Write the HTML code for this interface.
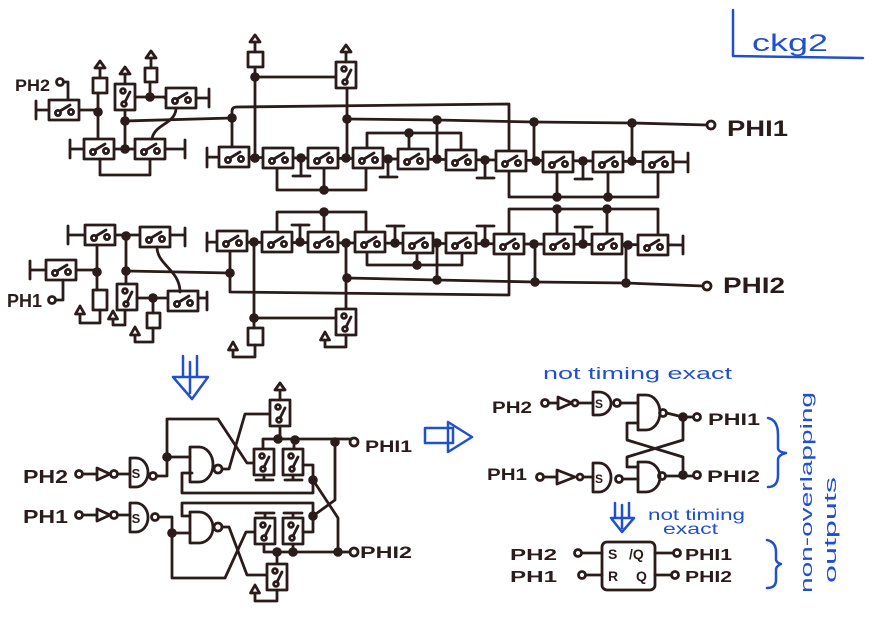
<!DOCTYPE html>
<html><head><meta charset="utf-8"><style>
html,body{margin:0;padding:0;background:#fff;}
svg{display:block;}
.t{font-family:"Liberation Sans",sans-serif;font-weight:bold;fill:#2a1c1a;}
.b{font-family:"Liberation Sans",sans-serif;fill:#2050d0;}
</style></head><body>
<svg width="877" height="620" viewBox="0 0 877 620" xmlns="http://www.w3.org/2000/svg">
<defs>
<g id="sh"><rect x="-15" y="-10" width="30" height="20" fill="#fff"/><circle cx="-6" cy="3" r="2.6" fill="#fff"/><circle cx="7" cy="2" r="2.6" fill="#fff"/><line x1="-4" y1="1" x2="6" y2="-5"/></g>
<g id="sv"><rect x="-10" y="-13" width="20" height="26" fill="#fff"/><circle cx="-2" cy="-6" r="2.4" fill="#fff"/><circle cx="-1" cy="7" r="2.4" fill="#fff"/><line x1="0" y1="5" x2="5" y2="-5"/></g>
<circle id="n" r="4.8" fill="#2a1c1a" stroke="none"/>
<g id="au"><line x1="0" y1="0" x2="0" y2="-16"/><path d="M-5,-10 L0,-17 L5,-10 Z" fill="#fff"/></g>
<path id="ah" d="M-4.5,3 L0,-5 L4.5,3 Z" fill="#fff"/>
<g id="gd"><line x1="0" y1="0" x2="0" y2="18"/><line x1="-8" y1="18" x2="9" y2="18"/></g>
<g id="pw"><line x1="0" y1="0" x2="0" y2="-17"/><line x1="-8" y1="-17" x2="9" y2="-17"/></g>
</defs>

<g fill="none" stroke="#2a1c1a" stroke-width="2.8" stroke-linecap="round" stroke-linejoin="round">
<!-- ===== top-left cluster ===== -->
<circle cx="60" cy="82" r="3.5"/>
<path d="M63.5,82 H68 V100"/>
<path d="M36,110 H98 M36,101 V119"/>
<use href="#sh" x="64" y="110"/>
<path d="M98,112 V93"/><rect x="93" y="78" width="14" height="15"/><use href="#au" x="100" y="78"/>
<path d="M98,112 V139"/>
<use href="#sv" x="125" y="97"/><use href="#au" x="125" y="84"/>
<path d="M135,97 H165"/>
<path d="M150,97 V82"/><rect x="145" y="68" width="12" height="14"/><use href="#au" x="151" y="68"/>
<path d="M165,98 H209 M209,89 V107"/>
<use href="#sh" x="181" y="98"/>
<path d="M125,110 V149"/>
<path d="M125,121 L232,118"/>
<path d="M70,149 H185 M70,140 V158 M185,140 V158"/>
<use href="#sh" x="99" y="149"/><use href="#sh" x="150" y="149"/>
<path d="M100,159 V175 H150 V159"/>
<path d="M176,108 C176,124 154,124 152,139"/>

<!-- ===== row 1 ===== -->
<path d="M207,157 L688,162 M207,148 V167 M688,153 V172"/>
<path d="M232,118 V111 Q232,107 237,107 L509,104 V151"/>
<path d="M232,118 V147"/>
<path d="M255,158 V67"/><rect x="248" y="52" width="15" height="15"/><use href="#au" x="255" y="52"/>
<path d="M255,77 H336"/>
<use href="#sv" x="346" y="75"/><use href="#au" x="346" y="62"/>
<path d="M347,88 V158"/>
<path d="M347,119 L437,120 L534,122 L632,123 L707,125"/>
<circle cx="711" cy="125" r="4"/>
<path d="M437,120 V159 M534,122 V161 M632,123 V161"/>
<path d="M367,150 V133 H461 V151 M409,133 V150"/>
<path d="M277,167 V190 H366 V167 M324,190 V168"/>
<path d="M509,170 V197 H658 V171 M557,197 V171 M608,197 V171"/>
<use href="#gd" x="301" y="158"/><use href="#gd" x="388" y="159"/><use href="#gd" x="485" y="160"/><use href="#gd" x="583" y="161"/>
<use href="#sh" x="234" y="157"/><use href="#sh" x="278" y="158"/><use href="#sh" x="323" y="158"/><use href="#sh" x="368" y="158"/><use href="#sh" x="413" y="159"/><use href="#sh" x="461" y="160"/><use href="#sh" x="511" y="161"/><use href="#sh" x="558" y="162"/><use href="#sh" x="608" y="162"/><use href="#sh" x="658" y="162"/>

<!-- ===== row 2 left ===== -->
<path d="M68,235 H185 M68,226 V244 M185,228 V246"/>
<use href="#sh" x="100" y="235"/><use href="#sh" x="155" y="237"/>
<path d="M97,245 V290"/><rect x="93" y="290" width="14" height="20"/>
<path d="M100,310 V323 H80 V313"/><use href="#ah" x="80" y="311"/>
<path d="M30,270 H97 M30,261 V279"/>
<use href="#sh" x="61" y="270"/>
<circle cx="52" cy="300" r="3.5"/>
<path d="M55.5,300 H63 V280"/>
<path d="M126,236 V284"/>
<path d="M126,271 L230,273"/>
<use href="#sv" x="127" y="297"/>
<path d="M125,310 V325 H113 V318"/><use href="#ah" x="113" y="316"/>
<path d="M137,298 H207 M207,292 V310"/>
<use href="#sh" x="183" y="301"/>
<path d="M153,298 V313"/><rect x="147" y="313" width="13" height="15"/>
<path d="M153,328 V342 H135 V334"/><use href="#ah" x="135" y="332"/>
<path d="M157,247 C157,265 180,270 180,292"/>

<!-- ===== row 2 ===== -->
<path d="M207,242 L683,245 M207,233 V251 M683,236 V254"/>
<path d="M230,250 V292 L509,295 V254"/>
<path d="M277,232 V212 H366 V232 M324,212 V232"/>
<path d="M509,234 V209 H658 V235 M557,209 V234 M607,209 V234"/>
<path d="M367,252 V265 H462 V253 M417,265 V253"/>
<path d="M346,243 V310"/>
<path d="M347,278 L437,280 L535,282 L626,283 L703,286"/>
<circle cx="707" cy="286" r="4"/>
<path d="M437,280 V243 M535,282 V244 M626,283 V245"/>
<use href="#sv" x="346" y="322"/>
<path d="M346,335 V347 H325 V339"/><use href="#ah" x="325" y="337"/>
<path d="M254,242 V328 M254,318 H336"/>
<rect x="248" y="328" width="15" height="17"/>
<path d="M255,345 V357 H233 V349"/><use href="#ah" x="233" y="347"/>
<use href="#pw" x="300" y="242"/><use href="#pw" x="395" y="243"/><use href="#pw" x="485" y="243"/><use href="#pw" x="583" y="244"/>
<use href="#sh" x="232" y="241"/><use href="#sh" x="277" y="242"/><use href="#sh" x="323" y="242"/><use href="#sh" x="370" y="242"/><use href="#sh" x="418" y="243"/><use href="#sh" x="461" y="243"/><use href="#sh" x="509" y="244"/><use href="#sh" x="559" y="244"/><use href="#sh" x="607" y="244"/><use href="#sh" x="653" y="245"/>

<!-- ===== bottom-left circuit ===== -->
<circle cx="79" cy="474" r="3.5"/>
<path d="M82.5,474 H97"/>
<path d="M97,468 L110,474 L97,480 Z"/><circle cx="114" cy="474" r="3.5"/>
<path d="M117.5,474 H130"/>
<path d="M130,458 H136 A12,14.5 0 0 1 136,487 H130 Z"/>
<circle cx="153" cy="476" r="3.5"/>
<path d="M156.5,476 H167 V457"/>
<path d="M167,457 V419 H218 L247,463 H254"/>
<path d="M167,457 H190"/>
<path d="M190,447 H199 A14,17.5 0 0 1 199,482 H190 Z"/>
<circle cx="218" cy="469" r="4"/>
<path d="M222,469 H229 L245,414 H270"/>
<use href="#sv" x="280" y="413"/><use href="#au" x="280" y="400"/>
<path d="M280,426 V439"/>
<path d="M263,450 V439 H350"/>
<circle cx="354" cy="442" r="4"/>
<use href="#sv" x="264" y="462"/>
<path d="M264,475 V480 M256,480 H273"/>
<path d="M294,440 V450"/>
<use href="#sv" x="293" y="462"/>
<path d="M293,475 V480 M285,480 H302"/>
<path d="M303,465 H313 V480"/>
<path d="M192,473 H182 V493 H313 V480"/>
<path d="M335,442 L335,500 L313,516"/>
<path d="M313,480 L338,518 L338,552"/>

<circle cx="79" cy="515" r="3.5"/>
<path d="M82.5,515 H97"/>
<path d="M97,509 L110,515 L97,521 Z"/><circle cx="114" cy="515" r="3.5"/>
<path d="M117.5,515 H130"/>
<path d="M130,503 H136 A12,14.5 0 0 1 136,532 H130 Z"/>
<circle cx="155" cy="517" r="3.5"/>
<path d="M158.5,517 H172 V533"/>
<path d="M172,533 V578 H225 L246,532 H255"/>
<path d="M172,533 H190"/>
<path d="M190,512 H199 A14,15.5 0 0 1 199,543 H190 Z"/>
<circle cx="218" cy="527" r="4"/>
<path d="M222,527 H229 L247,575 H266"/>
<path d="M190,516 H182 V503 H313 V516"/>
<use href="#sv" x="265" y="531"/>
<path d="M265,518 V513 M256,513 H274"/>
<use href="#sv" x="293" y="531"/>
<path d="M293,518 V513 M284,513 H302"/>
<path d="M303,532 H313 V516"/>
<path d="M264,544 V552 H350"/>
<path d="M293,544 V552"/>
<circle cx="354" cy="552" r="4"/>
<path d="M277,552 V564"/>
<use href="#sv" x="277" y="577"/>
<path d="M277,590 V601 H255 V592"/><use href="#ah" x="255" y="590"/>

<!-- ===== right middle ===== -->
<circle cx="545" cy="403" r="3.5"/>
<path d="M548.5,403 H558"/>
<path d="M558,397 L572,403 L558,409 Z"/><circle cx="575" cy="403" r="3"/>
<path d="M578,403 H593"/>
<path d="M593,392 H599 A12,11.5 0 0 1 599,415 H593 Z"/>
<circle cx="617" cy="403" r="3.5"/>
<path d="M620.5,403 H638"/>
<path d="M638,395 H646 A14,17.5 0 0 1 646,430 H638 Z"/>
<circle cx="663" cy="413" r="3.5"/>
<path d="M666.5,413 L683,417 H693"/>
<circle cx="697" cy="417" r="3.5"/>
<path d="M638,423 H627 V440 L683,457 V475"/>
<path d="M683,417 V440 L627,457 V467 H638"/>
<circle cx="540" cy="477" r="3.5"/>
<path d="M543.5,477 H557"/>
<path d="M557,470 L575,477 L557,484 Z"/><circle cx="580" cy="477" r="3"/>
<path d="M583,477 H593"/>
<path d="M593,463 H599 A12,14.5 0 0 1 599,492 H593 Z"/>
<circle cx="619" cy="479" r="3.5"/>
<path d="M622.5,479 H638"/>
<path d="M638,462 H646 A14,15 0 0 1 646,492 H638 Z"/>
<circle cx="662" cy="476" r="3.5"/>
<path d="M665.5,476 H693"/>
<circle cx="697" cy="475" r="3.5"/>

<rect x="602" y="542" width="53" height="48" rx="5"/>
<circle cx="578" cy="553" r="3.5"/><path d="M581.5,553 H602"/>
<circle cx="582" cy="575" r="3.5"/><path d="M585.5,575 H602"/>
<path d="M655,553 H673"/><circle cx="677" cy="553" r="3.5"/>
<path d="M655,575 H671"/><circle cx="675" cy="575" r="3.5"/>
</g>

<!-- nodes -->
<g>
<use href="#n" x="98" y="112"/><use href="#n" x="150" y="97"/><use href="#n" x="125" y="121"/><use href="#n" x="125" y="149"/>
<use href="#n" x="232" y="118"/><use href="#n" x="255" y="158"/><use href="#n" x="255" y="77"/><use href="#n" x="347" y="119"/>
<use href="#n" x="301" y="158"/><use href="#n" x="346" y="158"/><use href="#n" x="388" y="159"/><use href="#n" x="437" y="159"/><use href="#n" x="485" y="160"/><use href="#n" x="536" y="161"/><use href="#n" x="583" y="161"/><use href="#n" x="632" y="161"/>
<use href="#n" x="437" y="120"/><use href="#n" x="534" y="122"/><use href="#n" x="632" y="123"/>
<use href="#n" x="409" y="133"/><use href="#n" x="324" y="190"/><use href="#n" x="557" y="197"/><use href="#n" x="608" y="197"/>
<use href="#n" x="126" y="236"/><use href="#n" x="97" y="272"/><use href="#n" x="126" y="271"/><use href="#n" x="153" y="298"/>
<use href="#n" x="254" y="242"/><use href="#n" x="300" y="242"/><use href="#n" x="346" y="243"/><use href="#n" x="395" y="243"/><use href="#n" x="437" y="243"/><use href="#n" x="485" y="243"/><use href="#n" x="534" y="244"/><use href="#n" x="583" y="244"/><use href="#n" x="628" y="245"/>
<use href="#n" x="230" y="273"/><use href="#n" x="324" y="212"/><use href="#n" x="557" y="209"/><use href="#n" x="607" y="209"/><use href="#n" x="417" y="265"/>
<use href="#n" x="347" y="278"/><use href="#n" x="437" y="280"/><use href="#n" x="535" y="282"/><use href="#n" x="626" y="283"/><use href="#n" x="254" y="318"/>
<use href="#n" x="167" y="457"/><use href="#n" x="278" y="439"/><use href="#n" x="295" y="440"/><use href="#n" x="335" y="442"/><use href="#n" x="313" y="480"/>
<use href="#n" x="172" y="533"/><use href="#n" x="313" y="516"/><use href="#n" x="277" y="552"/><use href="#n" x="293" y="552"/><use href="#n" x="338" y="552"/>
<use href="#n" x="683" y="417"/><use href="#n" x="683" y="475"/>
</g>

<!-- dark labels -->
<text class="t" x="15" y="91" font-size="17" textLength="35" lengthAdjust="spacingAndGlyphs">PH2</text>
<text class="t" x="7" y="307" font-size="18" textLength="35" lengthAdjust="spacingAndGlyphs">PH1</text>
<text class="t" x="727" y="136" font-size="22" textLength="61" lengthAdjust="spacingAndGlyphs">PHI1</text>
<text class="t" x="723" y="293" font-size="22" textLength="62" lengthAdjust="spacingAndGlyphs">PHI2</text>
<text class="t" x="23" y="483" font-size="18" textLength="45" lengthAdjust="spacingAndGlyphs">PH2</text>
<text class="t" x="23" y="523" font-size="18" textLength="45" lengthAdjust="spacingAndGlyphs">PH1</text>
<text class="t" x="365" y="452" font-size="17" textLength="47" lengthAdjust="spacingAndGlyphs">PHI1</text>
<text class="t" x="360" y="558" font-size="17" textLength="52" lengthAdjust="spacingAndGlyphs">PHI2</text>
<text class="t" x="136" y="478" font-size="13" text-anchor="middle">S</text>
<text class="t" x="136" y="523" font-size="13" text-anchor="middle">S</text>
<text class="t" x="492" y="413" font-size="17" textLength="40" lengthAdjust="spacingAndGlyphs">PH2</text>
<text class="t" x="708" y="425" font-size="17" textLength="52" lengthAdjust="spacingAndGlyphs">PHI1</text>
<text class="t" x="487" y="480" font-size="17" textLength="40" lengthAdjust="spacingAndGlyphs">PH1</text>
<text class="t" x="707" y="482" font-size="17" textLength="53" lengthAdjust="spacingAndGlyphs">PHI2</text>
<text class="t" x="599" y="408" font-size="12" text-anchor="middle">S</text>
<text class="t" x="599" y="483" font-size="12" text-anchor="middle">S</text>
<text class="t" x="510" y="560" font-size="16" textLength="47" lengthAdjust="spacingAndGlyphs">PH2</text>
<text class="t" x="510" y="582" font-size="16" textLength="47" lengthAdjust="spacingAndGlyphs">PH1</text>
<text class="t" x="685" y="560" font-size="16" textLength="47" lengthAdjust="spacingAndGlyphs">PHI1</text>
<text class="t" x="685" y="582" font-size="16" textLength="47" lengthAdjust="spacingAndGlyphs">PHI2</text>
<text class="t" x="608" y="559" font-size="14">S</text>
<text class="t" x="629" y="559" font-size="14">/Q</text>
<text class="t" x="608" y="581" font-size="14">R</text>
<text class="t" x="636" y="581" font-size="14">Q</text>

<!-- blue annotations -->
<g fill="none" stroke="#2050d0" stroke-width="2.5" stroke-linejoin="round" stroke-linecap="round">
<path d="M733,10 V56 L863,58"/>
<path d="M183,356 V377 M197,356 V377 M190,362 V393 M173,377 L208,377 L192,399 Z"/>
<path d="M448,428 H425 V443 H453 M453,428 H448 M448,422 V452 L472,437 Z M453,428 V443"/>
<path d="M615,503 V518 M629,503 V518 M622,505 V528 M611,518 L634,518 L622,532 Z"/>
<path d="M768,418 Q778,420 778,435 L778,448 Q778,452 786,453 Q778,455 778,460 L778,475 Q778,487 768,487"/>
<path d="M767,540 Q776,542 776,552 L776,560 Q777,563 781,564 Q776,566 776,570 L776,580 Q776,588 767,588"/>
</g>
<text class="b" x="752" y="51" font-size="24" textLength="76" lengthAdjust="spacingAndGlyphs">ckg2</text>
<text class="b" x="543" y="379" font-size="17" textLength="189" lengthAdjust="spacingAndGlyphs">not timing exact</text>
<text class="b" x="648" y="520" font-size="16" textLength="97" lengthAdjust="spacingAndGlyphs">not timing</text>
<text class="b" x="663" y="534" font-size="16" textLength="55" lengthAdjust="spacingAndGlyphs">exact</text>
<text class="b" font-size="17" textLength="201" lengthAdjust="spacingAndGlyphs" transform="translate(812,593) rotate(-90)">non-overlapping</text>
<text class="b" font-size="17" textLength="106" lengthAdjust="spacingAndGlyphs" transform="translate(836,583) rotate(-90)">outputs</text>
</svg>
</body></html>
